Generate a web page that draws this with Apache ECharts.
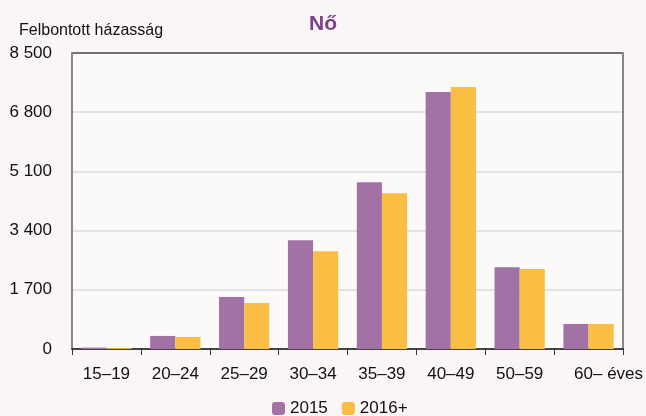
<!DOCTYPE html>
<html>
<head>
<meta charset="utf-8">
<script src="https://cdn.jsdelivr.net/npm/echarts@6/dist/echarts.min.js"></script>
<style>
  html, body { margin: 0; padding: 0; background: #faf6f5; }
  #chart { width: 646px; height: 416px; }
</style>
</head>
<body>
<div id="chart"></div>
<script>
const categories = ['15–19', '20–24', '25–29', '30–34', '35–39', '40–49', '50–59', '60– éves'];
const values2015 = [40, 375, 1495, 3125, 4790, 7380, 2350, 720];
const values2016 = [25, 345, 1320, 2810, 4470, 7525, 2295, 720];
const yTicks = [0, 1700, 3400, 5100, 6800, 8500];

const font = '"Liberation Sans", Arial, sans-serif';
const purple = '#a272a6';
const yellow = '#fbbe44';

const chart = echarts.init(document.getElementById('chart'));

// last label sits a bit right of its category centre in the original
const xData = categories.map((c, i) =>
  i === categories.length - 1 ? { value: c, textStyle: { padding: [0, 0, 0, 40] } } : c
);

const option = {
  backgroundColor: '#faf6f5',
  animation: false,
  textStyle: { fontFamily: font },
  title: {
    text: 'Nő',
    left: 'center',
    top: 9,
    textStyle: { color: '#7b3f8c', fontSize: 21, fontWeight: 'bold', fontFamily: font }
  },
  legend: {
    top: 400,
    left: 272,
    itemWidth: 13,
    itemHeight: 13,
    itemGap: 14,
    padding: 0,
    textStyle: { fontSize: 17, color: '#111', fontFamily: font },
    data: ['2015', '2016+']
  },
  grid: {
    left: 72,
    right: 22,
    top: 53,
    bottom: 67,
    show: true,
    backgroundColor: '#fcf9f9',
    borderWidth: 0
  },
  xAxis: {
    type: 'category',
    data: xData,
    axisLine: { lineStyle: { color: '#111', width: 1.5 } },
    axisTick: { show: true, interval: 0, length: 6, lineStyle: { color: '#333' } },
    axisLabel: { interval: 0, fontSize: 17, color: '#111', margin: 17, fontFamily: font }
  },
  yAxis: [
    {
      type: 'value',
      min: yTicks[0],
      max: yTicks[yTicks.length - 1],
      interval: 1700,
      name: 'Felbontott házasság',
      nameLocation: 'end',
      nameGap: 14,
      nameTextStyle: { fontSize: 16, color: '#111', align: 'left', padding: [0, 0, 0, -53], fontFamily: font },
      axisLine: { show: true, lineStyle: { color: '#888', width: 2 } },
      axisTick: { show: false },
      axisLabel: {
        fontSize: 17,
        color: '#111',
        margin: 20,
        fontFamily: font,
        formatter: v => String(v).replace(/\B(?=(\d{3})+(?!\d))/g, ' ')
      },
      splitLine: {
        show: true,
        lineStyle: { color: ['#dddada', '#dddada', '#dddada', '#dddada', '#dddada', '#444'], width: 1.5 }
      }
    },
    {
      type: 'value',
      position: 'right',
      min: yTicks[0],
      max: yTicks[yTicks.length - 1],
      interval: 1700,
      axisLine: { show: true, lineStyle: { color: '#888', width: 2 } },
      axisTick: { show: false },
      axisLabel: { show: false },
      splitLine: { show: false }
    }
  ],
  series: [
    {
      name: '2015',
      type: 'bar',
      data: values2015,
      itemStyle: { color: purple },
      barGap: '0%',
      barCategoryGap: '27%'
    },
    {
      name: '2016+',
      type: 'bar',
      data: values2016,
      itemStyle: { color: yellow }
    }
  ]
};

chart.setOption(option);
</script>
</body>
</html>
